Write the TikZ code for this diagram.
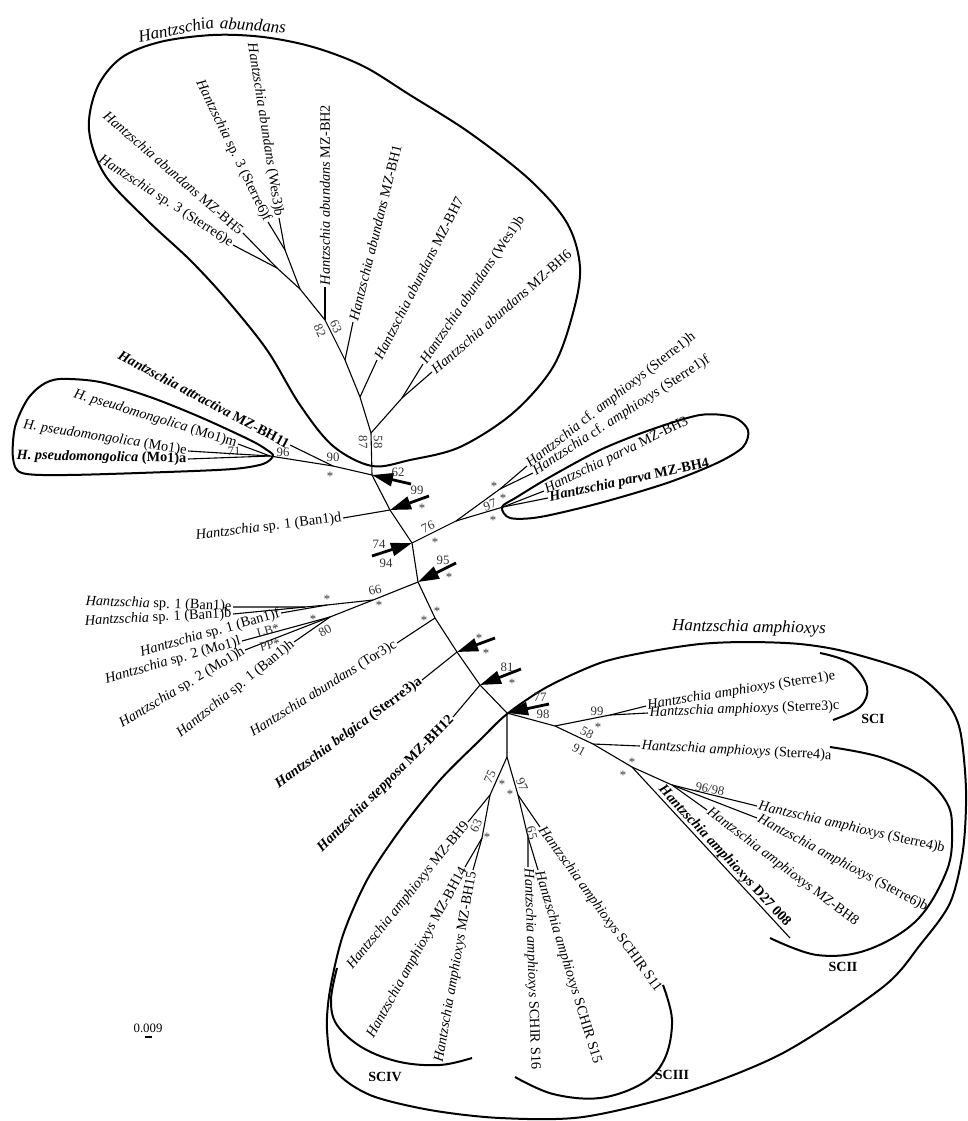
\documentclass[tikz,border=0pt]{standalone}
\usepackage{fontspec}
\setmainfont{Liberation Serif}
\usetikzlibrary{arrows.meta}
\newcommand\labfont{\fontsize{14.3}{16}\selectfont}
\newcommand\supfont{\fontsize{12.8}{14}\selectfont}
\newcommand\scfont{\fontsize{14}{16}\selectfont\bfseries}
\newcommand\cladefont{\fontsize{17}{19}\selectfont\itshape}
\newcommand\Hz{\textit{Hantzschia}}
\newcommand\Ha{\textit{Hantzschia abundans}}
\newcommand\Hm{\textit{Hantzschia amphioxys}}
\begin{document}
\begin{tikzpicture}[x=1pt,y=-1pt,
  br/.style={line width=1.1pt},
  outl/.style={line width=2pt},
  arr/.style={line width=2.8pt,-{Triangle[length=21pt,width=13pt]}},
  lab/.style={font=\labfont,inner sep=1.5pt},
  lw/.style={lab,anchor=west},
  le/.style={lab,anchor=east},
  sup/.style={font=\supfont,inner sep=0pt,text=black!80},
  sc/.style={font=\scfont,inner sep=0pt},
  clade/.style={font=\cladefont,inner sep=0pt}]
\useasboundingbox (0,0) rectangle (968,1121);
% ---------- coordinates ----------
\coordinate (N1) at (372,475);
\coordinate (N2) at (333,466);
\coordinate (N3) at (270,456);
\coordinate (att) at (290,445);
\coordinate (pm) at (238,444);
\coordinate (pe) at (188,451);
\coordinate (pa) at (188,459);
\coordinate (N4) at (371,433);
\coordinate (N5) at (402,398);
\coordinate (wesb) at (423,364);
\coordinate (bhsix) at (432,372);
\coordinate (N6) at (360,397);
\coordinate (bhseven) at (377,360);
\coordinate (N7) at (345,360);
\coordinate (bhone) at (353,322);
\coordinate (N8) at (325,320);
\coordinate (bhtwo) at (325,287);
\coordinate (N9) at (300,289);
\coordinate (N10) at (285,250);
\coordinate (ssf) at (268,222);
\coordinate (wtb) at (279,218);
\coordinate (N11) at (277,268);
\coordinate (bhfive) at (243,233);
\coordinate (sse) at (233,245);
\coordinate (N12) at (390,510);
\coordinate (bod) at (343,518);
\coordinate (N13) at (412,543);
\coordinate (N19) at (456,521);
\coordinate (N20) at (500,489);
\coordinate (sih) at (527,466);
\coordinate (sif) at (533,473);
\coordinate (N21) at (503,507);
\coordinate (bhthree) at (544,491);
\coordinate (bhfour) at (548,498);
\coordinate (N14) at (418,582);
\coordinate (N22) at (373,600);
\coordinate (Nf) at (327,605);
\coordinate (Ne) at (305,607);
\coordinate (boe) at (233,607);
\coordinate (bob) at (233,614);
\coordinate (bof) at (281,613);
\coordinate (NC) at (330,617);
\coordinate (mol) at (242,641);
\coordinate (moh) at (245,650);
\coordinate (boh) at (294,642);
\coordinate (N15) at (435,618);
\coordinate (tor) at (397,643);
\coordinate (N16) at (457,652);
\coordinate (belg) at (422,680);
\coordinate (N17) at (480,685);
\coordinate (step) at (453,717);
\coordinate (N18) at (507,713);
\coordinate (N23) at (555,726);
\coordinate (N23b) at (610,715);
\coordinate (sie) at (646,706);
\coordinate (stc) at (648,713);
\coordinate (N24) at (593,744);
\coordinate (sfa) at (640,746);
\coordinate (N25) at (632,767);
\coordinate (dend) at (790,938);
\coordinate (N26) at (672,785);
\coordinate (bheight) at (707,810);
\coordinate (sfb) at (757,806);
\coordinate (sxb) at (757,818);
\coordinate (N27) at (507,757);
\coordinate (N28) at (490,795);
\coordinate (bhnine) at (468,822);
\coordinate (N30) at (482,838);
\coordinate (bhft) at (465,867);
\coordinate (bhff) at (473,870);
\coordinate (N29) at (518,795);
\coordinate (sel) at (540,827);
\coordinate (N31) at (528,837);
\coordinate (ssix) at (528,867);
\coordinate (sfif) at (538,870);
% arrow tails
\coordinate (a62) at (411,484);
\coordinate (a99) at (429,496);
\coordinate (a74) at (372,556);
\coordinate (a95) at (456,563);
\coordinate (abe) at (495,638);
\coordinate (a81) at (521,669);
\coordinate (a77) at (549,704);
% ---------- outlines ----------
\draw[outl] plot[smooth cycle,tension=0.55] coordinates {(372,466) (333,446) (300,405) (267,350) (227,300) (190,260) (147,220) (105,175) (89,130) (97,88) (121,58) (160,42) (213,35) (263,37) (313,47) (363,66) (410,95) (470,133) (530,180) (567,223) (580,267) (573,313) (553,367) (513,413) (460,447) (410,460)};
\draw[outl] plot[smooth cycle,tension=0.5] coordinates {(273,456) (263,464) (233,469) (167,472) (67,475) (22,473) (13,458) (15,427) (27,400) (42,385) (60,379) (100,382) (150,397) (200,417) (250,440) (267,450)};
\draw[outl] plot[smooth cycle,tension=0.5] coordinates {(502,507) (517,497) (550,477) (600,450) (650,430) (700,415) (733,417) (748,430) (743,447) (717,463) (667,483) (600,503) (540,517) (510,518)};
\draw[outl] plot[smooth cycle,tension=0.5] coordinates {(367,880) (400,830) (440,780) (480,740) (507,714) (547,687) (600,663) (647,652) (700,644) (747,642) (800,644) (847,652) (913,673) (945,700) (960,730) (966,790) (963,850) (950,903) (920,945) (883,987) (783,1053) (683,1093) (583,1117) (500,1118) (430,1110) (370,1095) (335,1070) (327,1030) (330,990) (343,935)};
\draw[outl] plot[smooth,tension=0.6] coordinates {(820,653) (850,663) (867,687) (860,707) (833,720)};
\draw[outl] plot[smooth,tension=0.6] coordinates {(830,747) (880,757) (923,777) (947,803) (952,830) (947,870) (917,920) (867,950) (817,955) (770,938)};
\draw[outl] plot[smooth,tension=0.6] coordinates {(663,985) (672,1020) (665,1058) (643,1083) (600,1098) (553,1094) (515,1077)};
\draw[outl] plot[smooth,tension=0.6] coordinates {(337,968) (331,1000) (337,1025) (363,1048) (400,1062) (440,1065) (472,1058)};
% clade names
\node[clade,rotate=11] (cabA) at (176,29) {Hantzschia};
\node[clade,rotate=-4] (cabB) at (253,25) {abundans};
\node[clade,rotate=-1] (camph) at (749,628) {Hantzschia amphioxys};
\node[sc] (sci) at (873,719) {SCI};
\node[sc] (scii) at (843,967) {SCII};
\node[sc] (sciii) at (672,1075) {SCIII};
\node[sc] (sciv) at (385,1077) {SCIV};
% ---------- branches ----------
\draw[br] (N1) -- (N2) -- (N3);
\draw[br] (N2) -- (att);
\draw[br] (N3) -- (pm);
\draw[br] (N3) -- (pe);
\draw[br] (N3) -- (pa);
\draw[br] (N1) -- (N4) -- (N6) -- (N7) -- (N8) -- (N9);
\draw[br] (N4) -- (N5) -- (wesb);
\draw[br] (N5) -- (bhsix);
\draw[br] (N6) -- (bhseven);
\draw[br] (N7) -- (bhone);
\draw[br] (N8) -- (bhtwo);
\draw[br] (N9) -- (N10) -- (ssf);
\draw[br] (N10) -- (wtb);
\draw[br] (N9) -- (N11) -- (bhfive);
\draw[br] (N11) -- (sse);
\draw[br] (N1) -- (N12) -- (N13) -- (N14) -- (N15) -- (N16) -- (N17) -- (N18);
\draw[br] (N12) -- (bod);
\draw[br] (N13) -- (N19) -- (N20) -- (sih);
\draw[br] (N20) -- (sif);
\draw[br] (N19) -- (N21) -- (bhthree);
\draw[br] (N21) -- (bhfour);
\draw[br] (N14) -- (N22) -- (Nf) -- (Ne) -- (boe);
\draw[br] (Ne) -- (bob);
\draw[br] (Nf) -- (bof);
\draw[br] (N22) -- (NC) -- (mol);
\draw[br] (NC) -- (moh);
\draw[br] (NC) -- (boh);
\draw[br] (N15) -- (tor);
\draw[br] (N16) -- (belg);
\draw[br] (N17) -- (step);
\draw[br] (N18) -- (N23) -- (N24) -- (N25) -- (dend);
\draw[br] (N23) -- (N23b) -- (sie);
\draw[br] (N23b) -- (stc);
\draw[br] (N24) -- (sfa);
\draw[br] (N25) -- (N26) -- (bheight);
\draw[br] (N26) -- (sfb);
\draw[br] (N26) -- (sxb);
\draw[br] (N18) -- (N27) -- (N28) -- (bhnine);
\draw[br] (N28) -- (N30) -- (bhft);
\draw[br] (N30) -- (bhff);
\draw[br] (N27) -- (N29) -- (sel);
\draw[br] (N29) -- (N31) -- (ssix);
\draw[br] (N31) -- (sfif);
% ---------- arrows ----------
\draw[arr] (a62) -- (N1);
\draw[arr] (a99) -- (N12);
\draw[arr] (a74) -- (N13);
\draw[arr] (a95) -- (N14);
\draw[arr] (abe) -- (N16);
\draw[arr] (a81) -- (N17);
\draw[arr] (a77) -- (N18);
% ---------- leaf labels ----------
\node[le,rotate=-28] (Latt) at (att) {\textbf{\textit{Hantzschia attractiva} MZ-BH11}};
\node[le,rotate=-17] (Lpm) at (pm) {\textit{H. pseudomongolica} (Mo1)m};
\node[le,rotate=-9] (Lpe) at (pe) {\textit{H. pseudomongolica} (Mo1)e};
\node[le,rotate=-1] (Lpa) at (pa) {\textbf{\textit{H. pseudomongolica} (Mo1)a}};
\node[le,rotate=-41] (Lbh5) at (bhfive) {\Ha{} MZ-BH5};
\node[le,rotate=-33] (Lsse) at (sse) {\Hz{} sp. 3 (Sterre6)e};
\node[le,rotate=-64] (Lssf) at (ssf) {\Hz{} sp. 3 (Sterre6)f};
\node[le,rotate=-81] (Lwtb) at (wtb) {\Ha{} (Wes3)b};
\node[lw,rotate=90] (Lbh2) at (bhtwo) {\Ha{} MZ-BH2};
\node[lw,rotate=76] (Lbh1) at (bhone) {\Ha{} MZ-BH1};
\node[lw,rotate=63] (Lbh7) at (bhseven) {\Ha{} MZ-BH7};
\node[lw,rotate=56] (Lwesb) at (wesb) {\Ha{} (Wes1)b};
\node[lw,rotate=41] (Lbh6) at (bhsix) {\Ha{} MZ-BH6};
\node[le,rotate=7] (Lbod) at (bod) {\Hz{} sp. 1 (Ban1)d};
\node[lw,rotate=38] (Lsih) at (sih) {\Hz{} cf. \textit{amphioxys} (Sterre1)h};
\node[lw,rotate=33] (Lsif) at (sif) {\Hz{} cf. \textit{amphioxys} (Sterre1)f};
\node[lw,rotate=26] (Lbh3) at (bhthree) {\textit{Hantzschia parva} MZ-BH3};
\node[lw,rotate=12] (Lbh4) at (bhfour) {\textbf{\textit{Hantzschia parva} MZ-BH4}};
\node[le,rotate=-2] (Lboe) at (boe) {\Hz{} sp. 1 (Ban1)e};
\node[le,rotate=3] (Lbob) at (bob) {\Hz{} sp. 1 (Ban1)b};
\node[le,rotate=16] (Lbof) at (bof) {\Hz{} sp. 1 (Ban1)f};
\node[le,rotate=16] (Lmol) at (mol) {\Hz{} sp. 2 (Mo1)l};
\node[le,rotate=31] (Lmoh) at (moh) {\Hz{} sp. 2 (Mo1)h};
\node[le,rotate=39] (Lboh) at (boh) {\Hz{} sp. 1 (Ban1)h};
\node[le,rotate=32] (Ltor) at (tor) {\Ha{} (Tor3)c};
\node[le,rotate=36] (Lbelg) at (belg) {\textbf{\textit{Hantzschia belgica} (Sterre3)a}};
\node[le,rotate=45] (Lstep) at (step) {\textbf{\textit{Hantzschia stepposa} MZ-BH12}};
\node[lw,rotate=9] (Lsie) at (sie) {\Hm{} (Sterre1)e};
\node[lw,rotate=2] (Lstc) at (stc) {\Hm{} (Sterre3)c};
\node[lw,rotate=-3] (Lsfa) at (sfa) {\Hm{} (Sterre4)a};
\node[lab,anchor=south west,inner sep=0.5pt,rotate=-47] (Ldz) at (655,792) {\textbf{\Hm{} D27 008}};
\node[lw,rotate=-37] (Lbh8) at (bheight) {\Hm{} MZ-BH8};
\node[lw,rotate=-13] (Lsfb) at (sfb) {\Hm{} (Sterre4)b};
\node[lw,rotate=-28] (Lsxb) at (sxb) {\Hm{} (Sterre6)b};
\node[le,rotate=51] (Lbh9) at (bhnine) {\Hm{} MZ-BH9};
\node[le,rotate=61] (Lbh14) at (bhft) {\Hm{} MZ-BH14};
\node[le,rotate=80] (Lbh15) at (bhff) {\Hm{} MZ-BH15};
\node[lw,rotate=-88] (Ls16) at (ssix) {\Hm{} SCHIR S16};
\node[lw,rotate=-73] (Ls15) at (sfif) {\Hm{} SCHIR S15};
\node[lw,rotate=-54] (Ls11) at (sel) {\Hm{} SCHIR S11};
% ---------- support values ----------
\node[sup] (sp1) at (398,472) {62};
\node[sup] (sp2) at (417,490) {99};
\node[sup] (sp3) at (422,508) {*};
\node[sup] (sp4) at (379,544) {74};
\node[sup] (sp5) at (386,563) {94};
\node[sup] (sp6) at (443,560) {95};
\node[sup] (sp7) at (449,577) {*};
\node[sup] (sp8) at (424,620) {*};
\node[sup] (sp9) at (437,611) {*};
\node[sup] (sp10) at (479,638) {*};
\node[sup] (sp11) at (486,653) {*};
\node[sup] (sp12) at (507,667) {81};
\node[sup] (sp13) at (512,683) {*};
\node[sup] (sp14) at (540,697) {77};
\node[sup] (sp15) at (543,714) {98};
\node[sup] (sp16) at (333,457) {90};
\node[sup] (sp17) at (330,476) {*};
\node[sup] (sp18) at (283,452) {96};
\node[sup] (sp19) at (234,451) {71};
\node[sup,rotate=-65] (sp20) at (320,331) {82};
\node[sup,rotate=-65] (sp21) at (336,327) {63};
\node[sup,rotate=-90] (sp22) at (363,442) {87};
\node[sup,rotate=-90] (sp23) at (378,442) {58};
\node[sup,rotate=25] (sp24) at (428,527) {76};
\node[sup] (sp25) at (435,542) {*};
\node[sup] (sp26) at (494,486) {*};
\node[sup,rotate=20] (sp27) at (490,505) {97};
\node[sup] (sp28) at (503,498) {*};
\node[sup] (sp29) at (493,520) {*};
\node[sup,rotate=15] (sp30) at (375,590) {66};
\node[sup] (sp31) at (379,605) {*};
\node[sup] (sp32) at (327,599) {*};
\node[sup] (sp33) at (313,619) {*};
\node[sup,rotate=30] (sp34) at (325,631) {80};
\node[sup,rotate=15] (sp35) at (268,631) {LB*};
\node[sup,rotate=15] (sp36) at (270,645) {PP*};
\node[sup] (sp37) at (597,711) {99};
\node[sup] (sp38) at (598,727) {*};
\node[sup,rotate=-28] (sp39) at (587,733) {58};
\node[sup,rotate=-28] (sp40) at (579,750) {91};
\node[sup] (sp41) at (632,762) {*};
\node[sup] (sp42) at (623,775) {*};
\node[sup,rotate=-12] (sp43) at (710,789) {96/98};
\node[sup,rotate=65] (sp44) at (490,777) {75};
\node[sup] (sp45) at (502,784) {*};
\node[sup] (sp46) at (510,794) {*};
\node[sup,rotate=-65] (sp47) at (522,785) {97};
\node[sup,rotate=65] (sp48) at (476,826) {63};
\node[sup] (sp49) at (487,837) {*};
\node[sup,rotate=-75] (sp50) at (532,833) {65};
% ---------- scale ----------
\node[sup,text=black] (scale) at (148,1028) {0.009};
\coordinate (sbl) at (145,1037);
\coordinate (sbr) at (152,1037);
\draw[line width=2pt] (sbl) -- (sbr);
\end{tikzpicture}
\end{document}
